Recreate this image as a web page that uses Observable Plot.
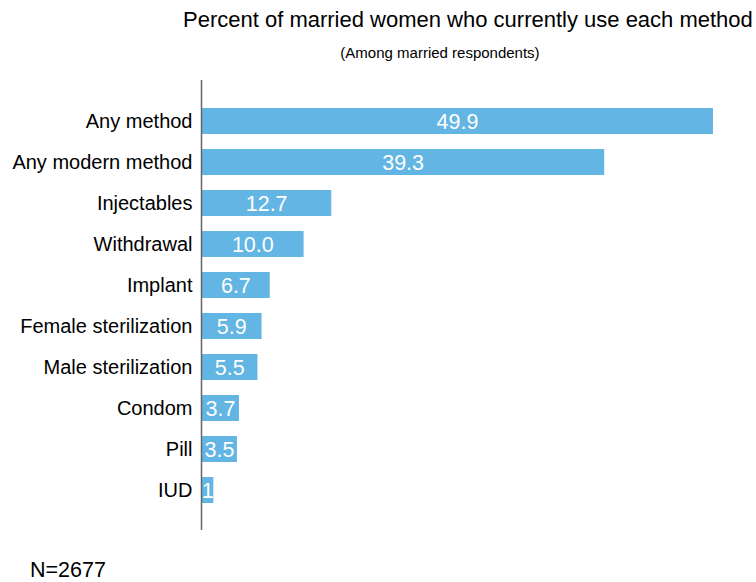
<!DOCTYPE html>
<html>
<head>
<meta charset="utf-8">
<script src="https://cdn.jsdelivr.net/npm/d3@7"></script>
<script src="https://cdn.jsdelivr.net/npm/@observablehq/plot@0.6"></script>
<style>
  html, body { margin: 0; padding: 0; background: #fff; }
  body { font-family: "Liberation Sans", Arial, sans-serif; color: #000; width: 756px; height: 582px; overflow: hidden; }
  #head { position: relative; height: 64px; }
  #title { position: absolute; left: 183px; top: 9px; font-size: 22px; line-height: 22px; white-space: nowrap; }
  #subtitle { position: absolute; left: 0; width: 880px; top: 45px; font-size: 15px; line-height: 15px; text-align: center; white-space: nowrap; }
  #caption { margin-top: 20px; padding-left: 30px; font-size: 21.5px; line-height: 21.5px; }
  svg { display: block; }
</style>
</head>
<body>
<div id="head">
  <div id="title">Percent of married women who currently use each method</div>
  <div id="subtitle">(Among married respondents)</div>
</div>
<div id="chart"></div>
<div id="caption">N=2677</div>
<script>
const categories = ["Any method", "Any modern method", "Injectables", "Withdrawal", "Implant", "Female sterilization", "Male sterilization", "Condom", "Pill", "IUD"];
const values = [49.9, 39.3, 12.7, 10.0, 6.7, 5.9, 5.5, 3.7, 3.5, 1.2];
const valueLabels = ["49.9", "39.3", "12.7", "10.0", "6.7", "5.9", "5.5", "3.7", "3.5", "1"];

const data = categories.map((c, i) => ({category: c, value: values[i], label: valueLabels[i]}));

const chart = Plot.plot({
  width: 756,
  height: 476,
  marginTop: 16,
  marginBottom: 10,
  marginLeft: 201,
  marginRight: 42,
  style: {fontFamily: '"Liberation Sans", Arial, sans-serif', color: "#000", background: "#fff"},
  x: {domain: [0, 50], axis: null},
  y: {domain: categories, paddingInner: 0.37, paddingOuter: 0.66, label: null, axis: null},
  marks: [
    Plot.axisY({tickSize: 0, tickPadding: 9, fontSize: 20, label: null, fill: "#000"}),
    Plot.barX(data, {x: "value", y: "category", fill: "#63b5e4"}),
    Plot.text(data, {x: d => d.value / 2, y: "category", text: "label", fill: "#fff", fontSize: 21.5, dy: 1}),
    Plot.ruleX([0], {stroke: "#666", strokeWidth: 1.5})
  ]
});
document.getElementById("chart").appendChild(chart);
</script>
</body>
</html>
